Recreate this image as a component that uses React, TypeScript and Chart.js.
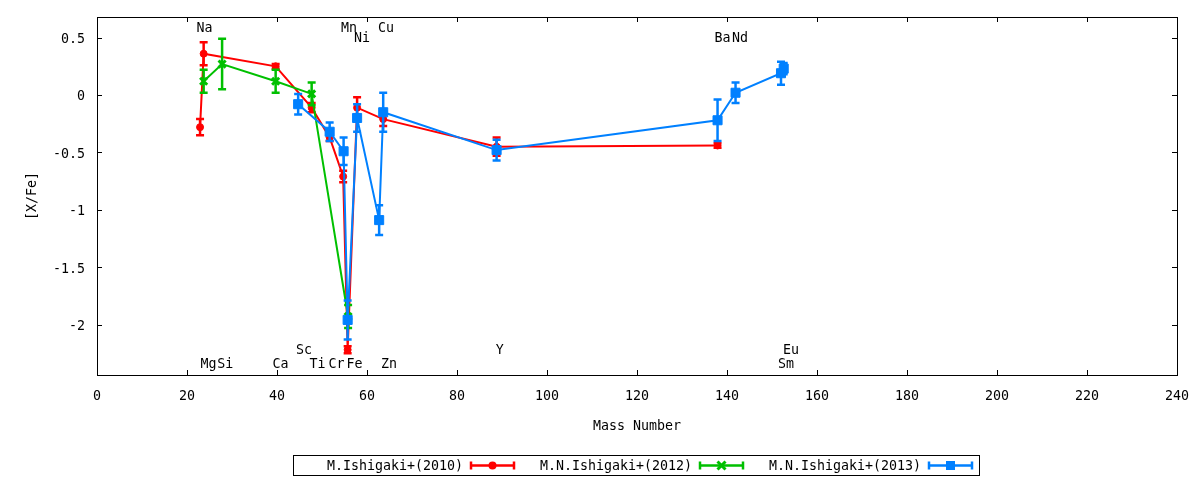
import { useEffect, useRef } from "react"
import { Chart, registerables } from "chart.js"

Chart.register(...registerables)

const FONT = "'DejaVu Sans Mono', monospace"
const FONT_SIZE = 13.3

const RED = "#ff0000"
const GREEN = "#00c000"
const BLUE = "#0080ff"

// M.Ishigaki+(2010)
const redMass = [22.9, 23.7, 39.7, 47.7, 51.7, 54.7, 55.7, 57.8, 63.6, 88.8, 137.9]
const redVal = [-0.28, 0.36, 0.25, -0.11, -0.37, -0.71, -2.22, -0.11, -0.21, -0.45, -0.44]
const redErr = [0.07, 0.1, 0.02, 0.04, 0.03, 0.05, 0.03, 0.09, 0.06, 0.08, 0.02]

// M.N.Ishigaki+(2012)
const greenMass = [23.7, 27.8, 39.7, 47.7, 55.8]
const greenVal = [0.12, 0.27, 0.12, 0.01, -1.93]
const greenErr = [0.1, 0.22, 0.1, 0.1, 0.1]

// M.N.Ishigaki+(2013)
const blueMass = [44.7, 51.7, 54.8, 55.7, 57.8, 62.7, 63.6, 88.8, 137.9, 141.9, 152.0, 152.6]
const blueVal = [-0.08, -0.32, -0.49, -1.96, -0.2, -1.09, -0.15, -0.48, -0.22, 0.02, 0.19, 0.23]
const blueErr = [0.09, 0.08, 0.12, 0.17, 0.12, 0.13, 0.17, 0.09, 0.18, 0.09, 0.1, 0.05]

// element name labels (data coordinates)
const labelNames = ["Na", "Mn", "Ni", "Cu", "Ba", "Nd", "Sc", "Y", "Eu", "Mg", "Si", "Ca", "Ti", "Cr", "Fe", "Zn", "Sm"]
const labelMass = [23.9, 56.0, 58.9, 64.2, 139.0, 142.9, 46.0, 89.5, 154.2, 24.8, 28.5, 40.8, 49.0, 53.2, 57.2, 64.9, 153.1]
const labelVal = [0.6, 0.6, 0.51, 0.6, 0.51, 0.51, -2.21, -2.21, -2.21, -2.33, -2.33, -2.33, -2.33, -2.33, -2.33, -2.33, -2.33]

const legendLabels = ["M.Ishigaki+(2010)", "M.N.Ishigaki+(2012)", "M.N.Ishigaki+(2013)"]

function drawMarker(ctx: CanvasRenderingContext2D, style: string, x: number, y: number, color: string) {
  ctx.save()
  ctx.fillStyle = color
  ctx.strokeStyle = color
  if (style === "circle") {
    ctx.beginPath()
    ctx.arc(x, y, 4, 0, Math.PI * 2)
    ctx.fill()
  } else if (style === "crossRot") {
    ctx.lineWidth = 3
    ctx.beginPath()
    ctx.moveTo(x - 4, y - 4)
    ctx.lineTo(x + 4, y + 4)
    ctx.moveTo(x + 4, y - 4)
    ctx.lineTo(x - 4, y + 4)
    ctx.stroke()
  } else {
    ctx.fillRect(x - 4.5, y - 4.5, 9, 9)
  }
  ctx.restore()
}

const errorBars = {
  id: "errorBars",
  beforeDatasetDraw(chart: any, args: any) {
    const ds = chart.data.datasets[args.index]
    const errs: number[] = ds.errors
    if (!errs) return
    const ctx = chart.ctx
    const y = chart.scales.y
    ctx.save()
    ctx.strokeStyle = ds.borderColor
    ctx.lineWidth = 2.5
    args.meta.data.forEach((pt: any, i: number) => {
      const v = ds.data[i].y
      const top = y.getPixelForValue(v + errs[i])
      const bot = y.getPixelForValue(v - errs[i])
      ctx.beginPath()
      ctx.moveTo(pt.x, top)
      ctx.lineTo(pt.x, bot)
      ctx.moveTo(pt.x - 4, top)
      ctx.lineTo(pt.x + 4, top)
      ctx.moveTo(pt.x - 4, bot)
      ctx.lineTo(pt.x + 4, bot)
      ctx.stroke()
    })
    ctx.restore()
  },
}

const frameAndLabels = {
  id: "frameAndLabels",
  afterDraw(chart: any) {
    const ctx = chart.ctx
    const { left, right, top, bottom } = chart.chartArea
    const xs = chart.scales.x
    const ys = chart.scales.y
    ctx.save()
    ctx.strokeStyle = "#000"
    ctx.lineWidth = 1
    ctx.strokeRect(left + 0.5, top + 0.5, right - left, bottom - top)
    ctx.beginPath()
    xs.ticks.forEach((t: any) => {
      const px = Math.round(xs.getPixelForValue(t.value)) + 0.5
      ctx.moveTo(px, bottom)
      ctx.lineTo(px, bottom - 5)
      ctx.moveTo(px, top)
      ctx.lineTo(px, top + 5)
    })
    ys.ticks.forEach((t: any) => {
      const py = Math.round(ys.getPixelForValue(t.value)) + 0.5
      ctx.moveTo(left, py)
      ctx.lineTo(left + 5, py)
      ctx.moveTo(right, py)
      ctx.lineTo(right - 5, py)
    })
    ctx.stroke()

    // element labels
    ctx.fillStyle = "#000"
    ctx.font = `${FONT_SIZE}px ${FONT}`
    ctx.textAlign = "center"
    ctx.textBaseline = "middle"
    labelNames.forEach((name, i) => {
      ctx.fillText(name, xs.getPixelForValue(labelMass[i]), ys.getPixelForValue(labelVal[i]) + 2)
    })

    // legend box
    const cx = (left + right) / 2
    const boxLeft = Math.round(cx - 344)
    const boxTop = bottom + 80
    ctx.strokeRect(boxLeft + 0.5, boxTop + 0.5, 686, 20)
    const cy = boxTop + 10.5
    const datasets = chart.data.datasets
    legendLabels.forEach((text, i) => {
      const ds = datasets[i]
      const textRight = boxLeft + 170 + i * 229
      ctx.textAlign = "right"
      ctx.fillStyle = "#000"
      ctx.fillText(text, textRight, cy + 1)
      const x0 = textRight + 8
      const x1 = textRight + 51
      ctx.strokeStyle = ds.borderColor
      ctx.lineWidth = 2.5
      ctx.beginPath()
      ctx.moveTo(x0, cy)
      ctx.lineTo(x1, cy)
      ctx.moveTo(x0, cy - 4)
      ctx.lineTo(x0, cy + 4)
      ctx.moveTo(x1, cy - 4)
      ctx.lineTo(x1, cy + 4)
      ctx.stroke()
      drawMarker(ctx, ds.markerStyle, (x0 + x1) / 2, cy, ds.borderColor)
    })
    ctx.restore()
  },
}

function series(label: string, mass: number[], val: number[], err: number[], color: string, style: string, radius: number, order: number) {
  return {
    label,
    data: mass.map((m, i) => ({ x: m, y: val[i] })),
    errors: err,
    markerStyle: style,
    showLine: true,
    borderColor: color,
    backgroundColor: color,
    borderWidth: 2,
    pointStyle: style,
    pointRadius: radius,
    pointBorderWidth: style === "crossRot" ? 3 : 1,
    pointBackgroundColor: color,
    pointBorderColor: color,
    order,
  }
}

export default function App() {
  const chartRef = useRef<HTMLCanvasElement>(null)

  useEffect(() => {
    document.body.style.margin = "0"
    if (!chartRef.current) return

    const tickFont = { family: FONT, size: FONT_SIZE }

    const chart = new Chart(chartRef.current, {
      type: "scatter",
      data: {
        datasets: [
          series("M.Ishigaki+(2010)", redMass, redVal, redErr, RED, "circle", 3.5, 3),
          series("M.N.Ishigaki+(2012)", greenMass, greenVal, greenErr, GREEN, "crossRot", 5, 2),
          series("M.N.Ishigaki+(2013)", blueMass, blueVal, blueErr, BLUE, "rect", 6.4, 1),
        ] as any,
      },
      options: {
        animation: false,
        responsive: true,
        maintainAspectRatio: false,
        events: [],
        layout: { padding: { top: 17, right: 23, bottom: 40, left: 0 } },
        plugins: {
          legend: { display: false },
          tooltip: { enabled: false },
        },
        scales: {
          x: {
            type: "linear",
            min: 0,
            max: 240,
            grid: { display: false, drawTicks: false },
            border: { display: false },
            ticks: { stepSize: 20, color: "#000", font: tickFont, padding: 14 },
            title: {
              display: true,
              text: "Mass Number",
              color: "#000",
              font: tickFont,
              padding: { top: 0, bottom: 5 },
            },
            afterFit: (s: any) => {
              s.height = 65
              s.paddingLeft = 0
              s.paddingRight = 0
            },
          },
          y: {
            type: "linear",
            min: -2.44,
            max: 0.68,
            grid: { display: false, drawTicks: false },
            border: { display: false },
            ticks: {
              stepSize: 0.5,
              includeBounds: false,
              color: "#000",
              font: tickFont,
              padding: 12,
              labelOffset: 2,
              callback: (v: any) => String(Number(Number(v).toFixed(1))),
            },
            title: {
              display: true,
              text: "[X/Fe]",
              color: "#000",
              font: tickFont,
              padding: { top: 25, bottom: 0 },
            },
            afterFit: (s: any) => {
              s.width = 97
              s.paddingTop = 0
              s.paddingBottom = 0
            },
          },
        },
      },
      plugins: [errorBars, frameAndLabels],
    })

    return () => {
      chart.destroy()
    }
  }, [])

  return (
    <div style={{ width: 1200, height: 480, position: "relative", background: "#fff" }}>
      <canvas ref={chartRef} />
    </div>
  )
}
